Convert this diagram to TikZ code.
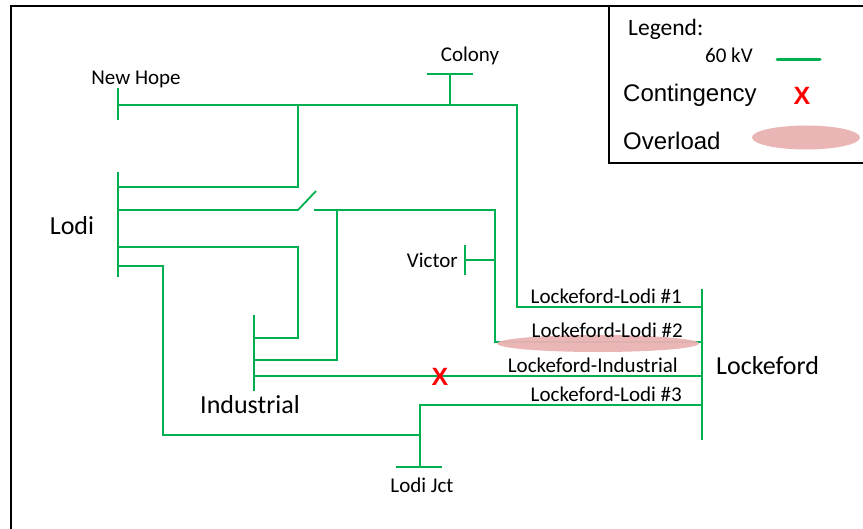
\documentclass[tikz,border=0pt]{standalone}
\usepackage{fontspec}
\setmainfont{Carlito}
\newfontfamily\arialfont{Liberation Sans}
\usetikzlibrary{positioning}
\definecolor{linegreen}{RGB}{0,176,80}
\definecolor{overpink}{RGB}{233,178,178}

\begin{document}
\begin{tikzpicture}[x=1pt, y=-1pt,
                line/.style={draw=linegreen, line width=1.8pt},
                bus/.style={draw=linegreen, line width=1.8pt},
                lbl/.style={inner sep=0pt, font=\fontsize{21}{24}\selectfont},
                big/.style={inner sep=0pt, font=\fontsize{26}{30}\selectfont},
                leg/.style={inner sep=0pt, font=\arialfont\fontsize{24}{28}\selectfont},
                cross/.style={inner sep=0pt, text=red, font=\arialfont\bfseries\fontsize{25}{28}\selectfont},
                overload/.style={fill=overpink, opacity=0.95}
                ]
    \useasboundingbox (0,0) rectangle (863,529);

    % Frame and legend
    \draw[line width=2pt] (11,532) -- (11,6) -- (866,6);
    \draw[line width=2pt, fill=white] (609,6) rectangle (866,163);
    \node[lbl, anchor=base west, font=\fontsize{23.5}{26}\selectfont] (legend) at (628,35.5) {Legend:};
    \node[lbl, anchor=base west] (kv) at (705,63) {60 kV};
    \coordinate (kvA) at (777,60);
    \coordinate (kvB) at (820,60);
    \draw[draw=linegreen, line width=3pt, line cap=round] (kvA) -- (kvB);
    \node[leg, anchor=base west] (cont) at (623,101.5) {Contingency};
    \node[cross, anchor=base] (contX) at (802,104.5) {X};
    \node[leg, anchor=base west] (over) at (623,150) {Overload};
    \fill[overload] (806,137.5) ellipse [x radius=54, y radius=12];

    % Buses
    \coordinate (nhT) at (118,88);   \coordinate (nhB) at (118,120);
    \coordinate (colL) at (427,74);  \coordinate (colR) at (473,74);
    \coordinate (lodiT) at (118,172); \coordinate (lodiB) at (118,277);
    \coordinate (indT) at (254,315); \coordinate (indB) at (254,391);
    \coordinate (vicT) at (465,245); \coordinate (vicB) at (465,275);
    \coordinate (lockT) at (702,289); \coordinate (lockB) at (702,440);
    \coordinate (jctL) at (396,467); \coordinate (jctR) at (442,467);
    \foreach \a/\b in {nhT/nhB, colL/colR, lodiT/lodiB, indT/indB, vicT/vicB, lockT/lockB, jctL/jctR}
        \draw[bus] (\a) -- (\b);

    % Taps
    \coordinate (nh) at (118,105);
    \coordinate (col) at (450,74);
    \coordinate (lodiA) at (118,187);
    \coordinate (lodiS) at (118,210);
    \coordinate (lodiC) at (118,247);
    \coordinate (lodiD) at (118,266);
    \coordinate (indA) at (254,338);
    \coordinate (indS) at (254,360);
    \coordinate (indC) at (254,376);
    \coordinate (vic) at (465,260);
    \coordinate (lockA) at (702,307);
    \coordinate (lockS) at (702,342);
    \coordinate (lockC) at (702,376);
    \coordinate (lockD) at (702,405);
    \coordinate (jct) at (420,467);
    \coordinate (swA) at (298,210);
    \coordinate (swB) at (316,191);
    \coordinate (swC) at (314,210);

    % Lines
    \draw[line] (nh) -- (517,105) |- (lockA);
    \draw[line] (col) -- (450,105);
    \draw[line] (298,105) |- (lodiA);
    \draw[line] (lodiS) -- (swA) -- (swB);
    \draw[line] (swC) -- (495,210) |- (lockS);
    \draw[line] (337,210) |- (indS);
    \draw[line] (vic) -- (495,260);
    \draw[line] (lodiC) -| (298,338) -- (indA);
    \draw[line] (lodiD) -| (163,435) -- (420,435);
    \draw[line] (jct) |- (lockD);
    \draw[line] (indC) -- (lockC);

    % Overload and contingency
    \fill[overload] (598,343.5) ellipse [x radius=101, y radius=8.5];
    \node[cross, anchor=base] (x) at (440,386) {X};

    % Labels
    \node[lbl, anchor=base] (newhope) at (136,84.5) {New Hope};
    \node[lbl, anchor=base] (colony) at (470,61.5) {Colony};
    \node[big, anchor=base] (lodi) at (72,235) {Lodi};
    \node[big, anchor=base] (industrial) at (250,414) {Industrial};
    \node[lbl, anchor=base east] (victor) at (458,268) {Victor};
    \node[lbl, anchor=base] (lodijct) at (422,492.5) {Lodi Jct};
    \node[big, anchor=base west] (lockeford) at (716,374.5) {Lockeford};
    \node[lbl, anchor=base east] (l1) at (682,303.5) {Lockeford-Lodi \#1};
    \node[lbl, anchor=base east] (l2) at (683,337.5) {Lockeford-Lodi \#2};
    \node[lbl, anchor=base east] (li) at (678,373) {Lockeford-Industrial};
    \node[lbl, anchor=base east] (l3) at (682,402) {Lockeford-Lodi \#3};
\end{tikzpicture}
\end{document}
